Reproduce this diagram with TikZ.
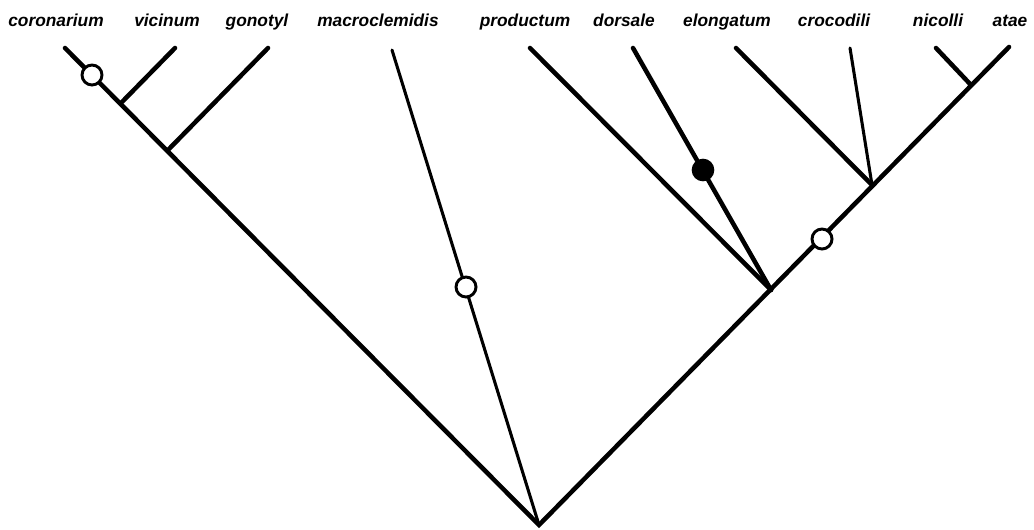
\documentclass[tikz,border=0pt]{standalone}
\usepackage{fontspec}
\setmainfont{Liberation Sans}
\begin{document}
\begin{tikzpicture}[x=0.75pt,y=-0.75pt,
  br/.style={line width=3.4pt,line cap=round},
  thinbr/.style={line width=2.3pt,line cap=round},
  lab/.style={anchor=base,inner sep=0pt,font=\fontsize{13}{15}\selectfont\bfseries\itshape},
  open/.style={circle,draw,fill=white,line width=2.2pt,minimum size=15pt,inner sep=0pt},
  closed/.style={circle,fill=black,minimum size=17pt,inner sep=0pt}]
\useasboundingbox (0,0) rectangle (1034,529);
% labels
\node[lab] (Lcor) at (56,26.5) {coronarium};
\node[lab] (Lvic) at (167,26.5) {vicinum};
\node[lab] (Lgon) at (257,26.5) {gonotyl};
\node[lab] (Lmac) at (378,26.5) {macroclemidis};
\node[lab] (Lpro) at (525,26.5) {productum};
\node[lab] (Ldor) at (624,26.5) {dorsale};
\node[lab] (Lelo) at (727,26.5) {elongatum};
\node[lab] (Lcro) at (834,26.5) {crocodili};
\node[lab] (Lnic) at (938,26.5) {nicolli};
\node[lab] (Lata) at (1010,26.5) {atae};
% tips
\coordinate (tcor) at (65,48);
\coordinate (tvic) at (175,48);
\coordinate (tgon) at (268,48);
\coordinate (tmac) at (392,50);
\coordinate (tpro) at (530,48);
\coordinate (tdor) at (633,48);
\coordinate (telo) at (736,48);
\coordinate (tcro) at (850,48);
\coordinate (tnic) at (936,48);
\coordinate (tata) at (1009,47);
% internal nodes
\coordinate (root) at (539,525);
\coordinate (nvic) at (122,102);
\coordinate (ngon) at (168,150);
\coordinate (npro) at (771,290);
\coordinate (nelo) at (872,185);
\coordinate (nnic) at (971,85);
% branches
\draw[br,line join=miter] (tcor) -- (root) -- (tata);
\draw[br] (nvic) -- (tvic);
\draw[br] (ngon) -- (tgon);
\draw[thinbr] (root) -- (tmac);
\draw[br] (npro) -- (tpro);
\draw[br] (npro) -- (tdor);
\draw[br] (nelo) -- (telo);
\draw[thinbr] (nelo) -- (tcro);
\draw[br] (nnic) -- (tnic);
% character state markers
\node[open] (c1) at (92,75) {};
\node[open] (c2) at (466,287) {};
\node[open] (c3) at (822,239) {};
\node[closed] (c4) at (703,170) {};
\end{tikzpicture}
\end{document}
